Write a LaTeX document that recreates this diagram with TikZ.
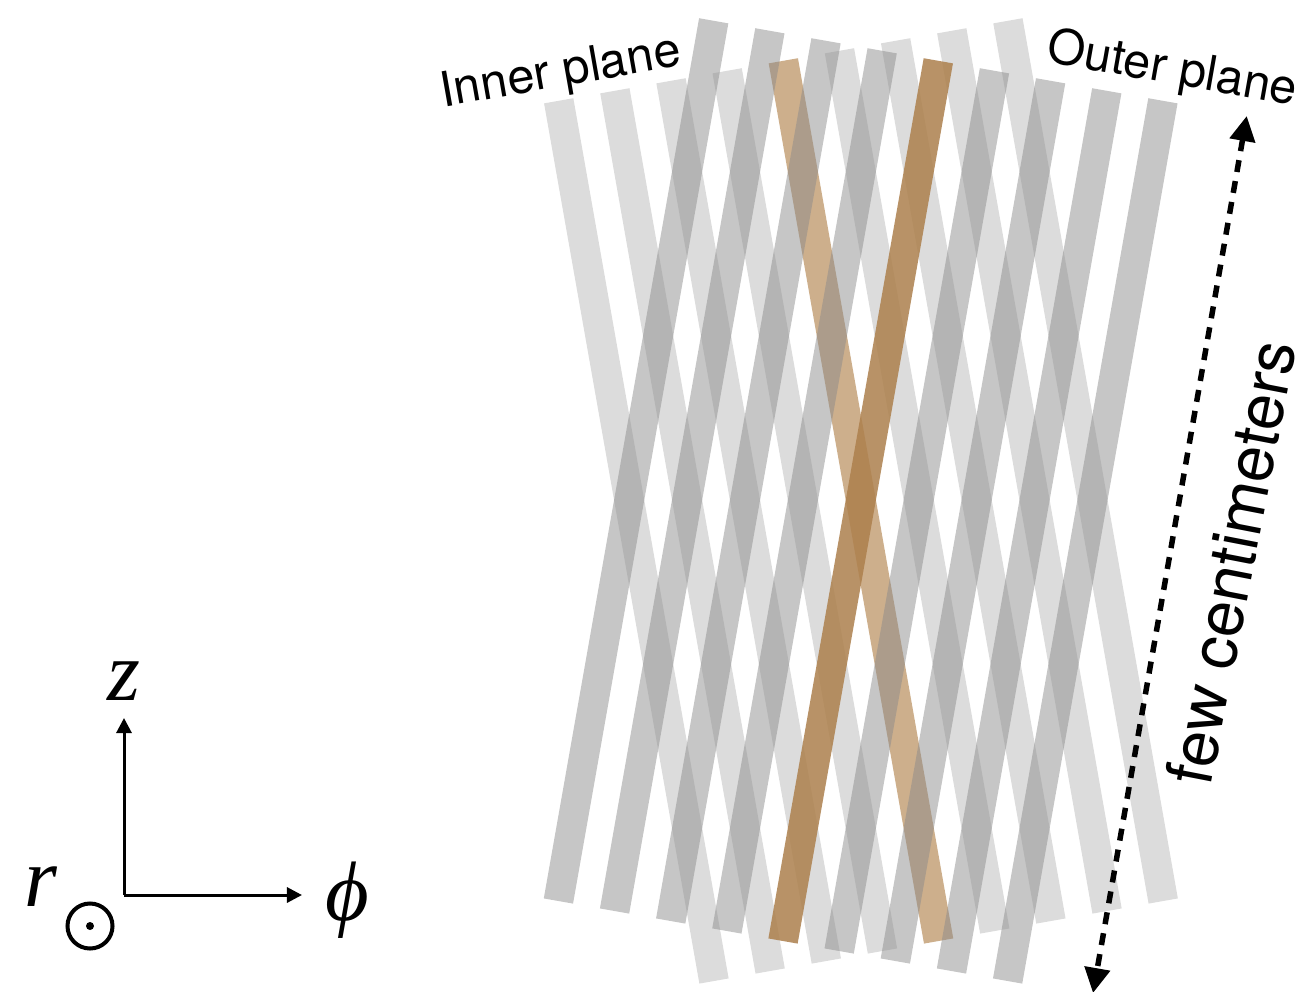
\documentclass[tikz,border=0pt]{standalone}
\usepackage{fontspec}
\setmainfont{TeX Gyre Heros}
\newfontfamily\axisfont{Liberation Serif}
\usetikzlibrary{arrows.meta, positioning}
\definecolor{mybrown}{RGB}{172,127,76}
\definecolor{lightbrown}{RGB}{172,122,64}
\definecolor{mygray}{RGB}{138,138,138}
\tikzset{
  strip/.style={line width=0.297cm, line cap=butt},
  innerstrip/.style={strip, color=mygray, opacity=0.30},
  outerstrip/.style={strip, color=mygray, opacity=0.49},
  innerbrown/.style={strip, color=lightbrown, opacity=0.6},
  outerbrown/.style={strip, color=mybrown, opacity=0.85},
  planelabel/.style={font=\fontsize{13.8}{16}\selectfont, inner sep=0pt},
  axislabel/.style={font=\fontsize{24}{28}\selectfont\axisfont\itshape, inner sep=0pt},
  axisarrow/.style={-{Triangle[length=0.15cm, width=0.15cm]}, line width=0.03cm},
  span/.style={{Triangle[length=0.25cm, width=0.25cm]}-{Triangle[length=0.25cm, width=0.25cm]},
    line width=0.055cm, dash pattern=on 0.12cm off 0.092cm}
}
\begin{document}
\begin{tikzpicture}[x=0.01cm, y=-0.01cm]
  \useasboundingbox (0,0) rectangle (1301,991);

  % Brown strip of the inner plane
  \draw[innerbrown] (783.3, 60.8) -- (938.6, 941);

  % Inner plane
  \foreach \i in {0,1,2,3,5,6,7,8} {
    \draw[innerstrip] (558.7+56.15*\i, 100.8-10*\i) -- (714+56.15*\i, 981-10*\i);
  }

  % Outer plane
  \foreach \i in {0,1,2,3,5,6,7,8} {
    \draw[outerstrip] (1162.9-56.15*\i, 100.8-10*\i) -- (1007.6-56.15*\i, 981-10*\i);
  }

  % Brown strip of the outer plane
  \draw[outerbrown] (938.3, 60.8) -- (783, 941);

  % Plane labels
  \node[planelabel, rotate=10] (inner) at (561, 74) {Inner plane};
  \node[planelabel, rotate=-10] (outer) at (1172, 71) {Outer plane};

  % Length of the strips
  \coordinate (spantop) at (1246.7, 116);
  \coordinate (spanbot) at (1093, 993);
  \draw[span] (spantop) -- (spanbot);
  \node[font=\fontsize{18.4}{22}\selectfont, rotate=79, inner sep=0pt] (few) at (1231, 562) {few centimeters};

  % Axes
  \coordinate (origin) at (124, 895);
  \coordinate (ztip) at (124, 718);
  \coordinate (phitip) at (302, 895);
  \draw[axisarrow] (origin) -- (ztip);
  \draw[axisarrow] (origin) -- (phitip);
  \node[axislabel] (zlab) at (124, 681) {z};
  \node[axislabel] (philab) at (347, 900) {ϕ};
  \node[axislabel] (rlab) at (41, 887) {r};

  % Out of the page symbol
  \node[circle, draw, line width=0.04cm, minimum size=0.45cm, inner sep=0pt] (rcirc) at (90, 926) {};
  \fill (rcirc.center) circle (0.04cm);
\end{tikzpicture}
\end{document}
